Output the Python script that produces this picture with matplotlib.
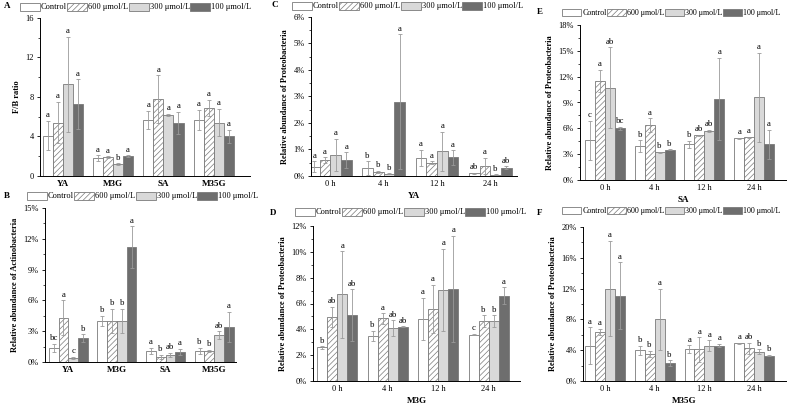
import matplotlib
matplotlib.use("Agg")
import matplotlib.pyplot as plt
import numpy as np
from matplotlib.patches import Patch
from matplotlib.ticker import MultipleLocator, PercentFormatter

plt.rcParams['font.family'] = ['Liberation Serif', 'DejaVu Serif']
plt.rcParams['font.size'] = 6
plt.rcParams['hatch.linewidth'] = 0.5
plt.rcParams['hatch.color'] = '#8a8a8a'

series = ['Control', '600 μmol/L', '300 μmol/L', '100 μmol/L']
groups_ab = ['YA', 'M3G', 'SA', 'M35G']
times = ['0 h', '4 h', '12 h', '24 h']

# Panel A: F/B ratio (rows = series, cols = groups)
a_mean = [[4.1, 1.8, 5.7, 5.7], [5.4, 1.9, 7.8, 6.9], [9.3, 1.2, 6.2, 5.4], [7.3, 2.0, 5.4, 4.0]]
a_err = [[1.5, 0.3, 0.9, 1.0], [2.1, 0.1, 2.4, 0.8], [4.8, 0.1, 0.1, 1.4], [2.5, 0.1, 1.1, 0.7]]
a_let = [['a', 'a', 'a', 'a'], ['a', 'a', 'a', 'a'], ['a', 'b', 'a', 'a'], ['a', 'a', 'a', 'a']]

# Panel B: Actinobacteria (%)
b_mean = [[1.4, 4.0, 1.1, 1.1], [4.3, 4.0, 0.5, 1.1], [0.4, 4.0, 0.7, 2.6], [2.3, 11.2, 1.0, 3.4]]
b_err = [[0.4, 0.5, 0.3, 0.3], [1.7, 1.2, 0.2, 0.1], [0.1, 1.2, 0.2, 0.4], [0.4, 2.0, 0.3, 1.5]]
b_let = [['bc', 'b', 'a', 'b'], ['a', 'b', 'b', 'b'], ['c', 'b', 'ab', 'ab'], ['b', 'a', 'a', 'a']]

# Panel C: Proteobacteria, YA (%)
c_mean = [[0.35, 0.3, 0.68, 0.1], [0.6, 0.15, 0.5, 0.38], [0.8, 0.08, 0.93, 0.05], [0.6, 2.8, 0.7, 0.32]]
c_err = [[0.2, 0.25, 0.3, 0.02], [0.1, 0.05, 0.05, 0.3], [0.6, 0.02, 0.73, 0.01], [0.3, 2.55, 0.27, 0.05]]
c_let = [['a', 'b', 'a', 'ab'], ['a', 'b', 'a', 'a'], ['a', 'b', 'a', 'b'], ['a', 'a', 'a', 'ab']]

# Panel D: Proteobacteria, M3G (%)
d_mean = [[2.6, 3.5, 4.8, 3.6], [4.95, 4.85, 5.6, 4.65], [6.7, 4.1, 7.05, 4.65], [5.1, 4.2, 7.15, 6.6]]
d_err = [[0.1, 0.4, 1.65, 0.05], [0.8, 0.4, 1.85, 0.45], [3.35, 0.6, 3.2, 0.45], [2.0, 0.05, 4.1, 0.65]]
d_let = [['b', 'b', 'a', 'c'], ['ab', 'a', 'a', 'b'], ['a', 'ab', 'a', 'b'], ['ab', 'ab', 'a', 'a']]

# Panel E: Proteobacteria, SA (%)
e_mean = [[4.6, 3.9, 4.15, 4.85], [11.5, 6.35, 5.2, 4.95], [10.7, 3.2, 5.7, 9.6], [6.0, 3.5, 9.4, 4.15]]
e_err = [[2.3, 0.7, 0.4, 0.05], [1.3, 0.8, 0.05, 0.05], [4.7, 0.1, 0.15, 5.2], [0.2, 0.05, 4.8, 1.7]]
e_let = [['c', 'b', 'b', 'a'], ['a', 'a', 'ab', 'a'], ['ab', 'b', 'ab', 'a'], ['bc', 'b', 'a', 'a']]

# Panel F: Proteobacteria, M35G (%)
f_mean = [[4.6, 4.0, 4.15, 4.9], [6.4, 3.5, 4.1, 4.25], [12.0, 8.0, 4.6, 3.8], [11.1, 2.3, 4.6, 3.3]]
f_err = [[2.4, 0.6, 0.5, 0.05], [0.4, 0.4, 1.6, 0.7], [6.2, 4.0, 0.7, 0.3], [4.3, 0.4, 0.2, 0.1]]
f_let = [['a', 'b', 'a', 'a'], ['a', 'b', 'a', 'ab'], ['a', 'a', 'a', 'b'], ['a', 'b', 'a', 'b']]

face = ['white', 'white', '#d9d9d9', '#6e6e6e']
hatch = [None, '//////', None, None]
edge = '#7a7a7a'

W, H = 787, 404
fig = plt.figure(figsize=(W / 100, H / 100), dpi=100)


def px_axes(l, t, r, b):
    return fig.add_axes([l / W, 1 - b / H, (r - l) / W, (b - t) / H])


def panel(box, mean, err, let, cats, ymax, ystep, pct, ylabel, xlabel,
          xlim, letter, letpos, legy, legx, bold_ticks, legfs=6):
    ax = px_axes(*box)
    x = np.arange(len(cats))
    bw = 0.2
    for i in range(4):
        xs = x + (i - 1.5) * bw
        ax.bar(xs, mean[i], width=bw, color=face[i], edgecolor=edge,
               hatch=hatch[i], linewidth=0.6, zorder=2)
        ax.errorbar(xs, mean[i], yerr=err[i], fmt='none', ecolor='#9a9a9a',
                    elinewidth=0.6, capsize=1.5, capthick=0.6, zorder=3)
        for xx, m, e, t in zip(xs, mean[i], err[i], let[i]):
            ax.text(xx, m + e + ymax * 0.01, t, ha='center', va='bottom',
                    fontsize=6.3)
    ax.set_xlim(*xlim)
    ax.set_ylim(0, ymax)
    ax.yaxis.set_major_locator(MultipleLocator(ystep))
    ax.yaxis.set_minor_locator(MultipleLocator(ystep / 2))
    if pct:
        ax.yaxis.set_major_formatter(PercentFormatter(decimals=0))
    ax.set_xticks(x)
    ax.set_xticklabels(cats, fontweight='bold' if bold_ticks else 'normal',
                       fontsize=6.5 if bold_ticks else 6)
    ax.tick_params(axis='x', length=0, pad=3)
    ax.tick_params(axis='y', which='major', length=2.5, width=0.6, direction='out', pad=2, labelsize=6)
    ax.tick_params(axis='y', which='minor', length=1.3, width=0.5, direction='out')
    for s in ['top', 'right']:
        ax.spines[s].set_visible(False)
    for s in ['left', 'bottom']:
        ax.spines[s].set_linewidth(0.7)
    ax.set_ylabel(ylabel, fontweight='bold', fontsize=6, labelpad=3)
    if xlabel:
        ax.set_xlabel(xlabel, fontweight='bold', fontsize=6.5, labelpad=3)
    fig.text(letpos[0] / W, 1 - letpos[1] / H, letter, fontweight='bold',
             fontsize=6.5, ha='left', va='center')
    handles = [Patch(facecolor=face[i], edgecolor=edge, hatch=hatch[i],
                     linewidth=0.6) for i in range(4)]
    fig.legend(handles, series, loc='center left',
               bbox_to_anchor=(legx / W, 1 - legy / H), ncol=4, frameon=False,
               fontsize=legfs, handlelength=2.4, handleheight=1.1,
               handletextpad=0.1, columnspacing=0.05, borderpad=0,
               borderaxespad=0)
    return ax


panel((40, 18, 250, 176), a_mean, a_err, a_let, groups_ab, 16, 4, False,
      'F/B ratio', None, (-0.45, 3.72), 'A', (4, 6), 7, 20, True)
panel((45, 208, 236, 362), b_mean, b_err, b_let, groups_ab, 15, 3, True,
      'Relative abundance of Actinobacteria', None, (-0.48, 3.45), 'B', (4, 196), 196, 27, True)
panel((311, 17, 517, 176), c_mean, c_err, c_let, times, 6, 1, True,
      'Relative abundance of Proteobacteria', 'YA', (-0.36, 3.5), 'C', (272, 5), 6, 292, False)
panel((313, 226, 520, 381), d_mean, d_err, d_let, times, 12, 2, True,
      'Relative abundance of Proteobacteria', 'M3G', (-0.48, 3.62), 'D', (270, 213), 212, 295, False)
panel((580, 25, 786, 180), e_mean, e_err, e_let, times, 18, 3, True,
      'Relative abundance of Proteobacteria', 'SA', (-0.5, 3.64), 'E', (537, 12), 13, 562, False, 5.8)
panel((583, 227, 786, 381), f_mean, f_err, f_let, times, 20, 4, True,
      'Relative abundance of Proteobacteria', 'M35G', (-0.44, 3.64), 'F', (537, 213), 211, 562, False, 5.8)

fig.savefig('out.png', dpi=100)
